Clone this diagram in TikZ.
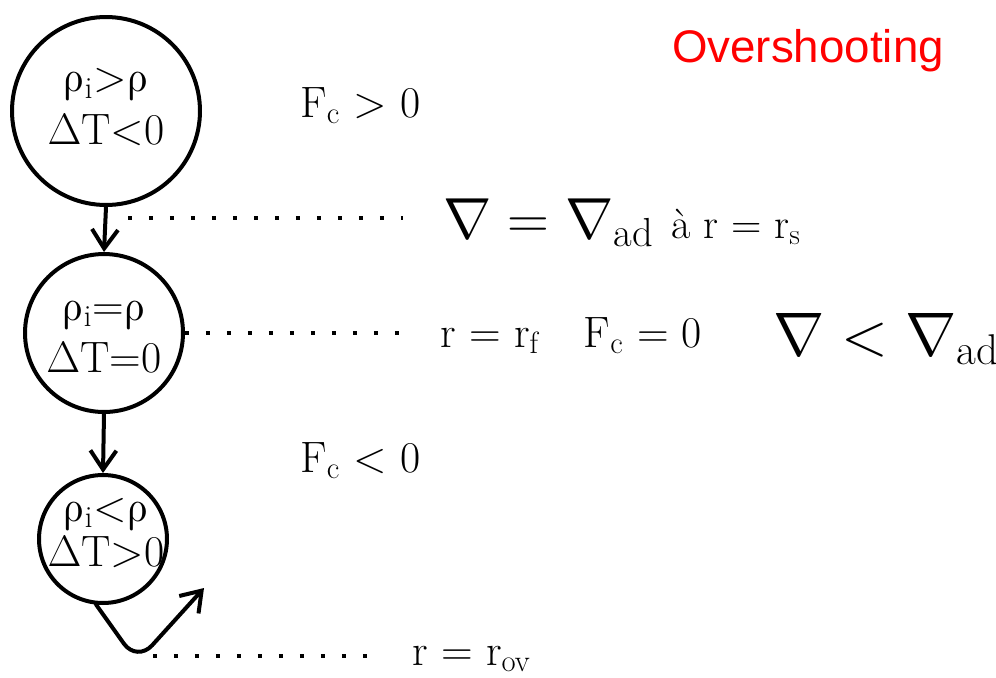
\RequirePackage{fix-cm}
\documentclass[tikz,border=0pt]{standalone}
\usepackage{fontspec}
\newfontfamily\greekfont{latinmodern-math.otf}
\newfontfamily\arialfont{Liberation Sans}
\newcommand{\rh}{{\greekfont ρ}}
\usetikzlibrary{arrows.meta}

\begin{document}
\begin{tikzpicture}[x=0.02cm,y=-0.02cm,>={Straight Barb[length=3.8mm,width=5.2mm]},line cap=round,
  bubble/.style={circle,draw,line width=0.08cm,inner sep=0pt},
  flow/.style={->,line width=0.08cm},
  dotline/.style={line width=0.08cm,line cap=butt,dash pattern=on 0.08cm off 0.34cm},
  inbub/.style={align=center,inner sep=0pt,font=\fontsize{25}{30}\selectfont},
  lbl/.style={anchor=base west,inner sep=0pt,font=\fontsize{25}{30}\selectfont}]
\useasboundingbox (0,0) rectangle (996,677);
% the three parcels
\node[bubble,minimum size=3.76cm] (upper) at (106,111) {};
\node[bubble,minimum size=3.16cm] (middle) at (104,333) {};
\node[bubble,minimum size=2.56cm] (lower) at (103,539) {};
\node[inbub] (uppertxt) at (106,107) {\rh\textsubscript{i}>\rh\\$\Delta$T<0};
\node[inbub] (middletxt) at (104,337) {\rh\textsubscript{i}=\rh\\$\Delta$T=0};
\node[inbub,font=\fontsize{25}{26}\selectfont] (lowertxt) at (106,533) {\rh\textsubscript{i}<\rh\\$\Delta$T>0};
\draw[flow] (upper.south) -- (middle.north);
\draw[flow] (middle.south) -- (lower.north);
\coordinate (bounce) at (137,662);
\coordinate (kick) at (204,588);
\draw[flow,rounded corners=0.45cm] (lower.264) -- (bounce) -- (kick);
% labels
\node[red,font=\arialfont\fontsize{26}{30}\selectfont] (title) at (808,51) {Overshooting};
\node[lbl] (fpos) at (300,117) {F\textsubscript{c} > 0};
\node[lbl] (fneg) at (300,472) {F\textsubscript{c} < 0};
\node[lbl,font=\fontsize{33}{36}\selectfont] (grad) at (443,238)
  {$\nabla = \nabla_{\mathrm{ad}}$ {\fontsize{24}{28}\selectfont à r = r\textsubscript{s}}};
\node[lbl] (rf) at (440,347) {r = r\textsubscript{f}\hspace{0.9cm}F\textsubscript{c} = 0};
\node[lbl,font=\fontsize{35}{40}\selectfont] (lessad) at (773,355) {$\nabla < \nabla_{\mathrm{ad}}$};
\node[lbl] (rov) at (412,665) {r = r\textsubscript{ov}};
% level lines
\coordinate (rs) at (128,218);
\coordinate (ovs) at (153,656);
\draw[dotline] (rs) -- ([xshift=-0.8cm]rs -| grad.west);
\draw[dotline] (middle.east) -- ([xshift=-0.7cm]middle.east -| rf.west);
\draw[dotline] (ovs) -- ([xshift=-0.8cm]ovs -| rov.west);
\end{tikzpicture}
\end{document}
